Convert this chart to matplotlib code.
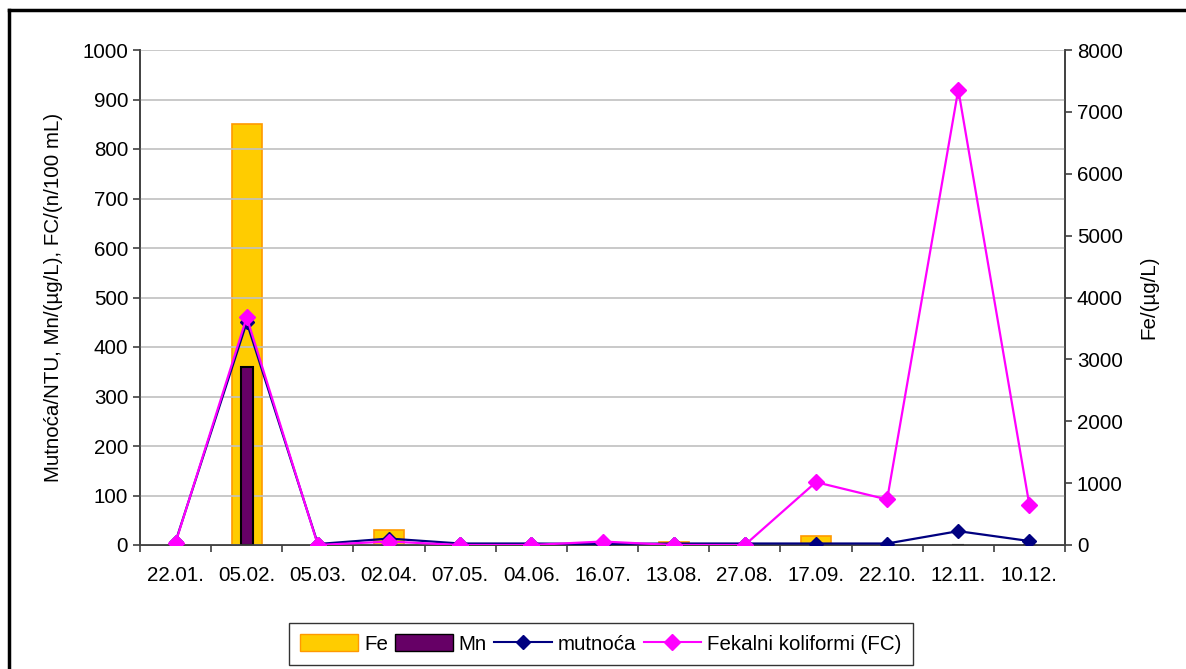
import matplotlib.pyplot as plt
from matplotlib.lines import Line2D
import numpy as np

plt.rcParams['font.family'] = ['Liberation Sans', 'DejaVu Sans']

dates = ["22.01.", "05.02.", "05.03.", "02.04.", "07.05.", "04.06.", "16.07.",
         "13.08.", "27.08.", "17.09.", "22.10.", "12.11.", "10.12."]
fe = [0, 6800, 0, 250, 0, 0, 0, 50, 0, 140, 0, 0, 0]          # right axis, ug/L
mn = [0, 360, 0, 0, 0, 0, 0, 0, 0, 0, 0, 0, 0]                # left axis
mutnoca = [7, 450, 2, 13, 3, 3, 2, 3, 3, 3, 3, 28, 8]
fc = [5, 460, 0, 7, 0, 0, 7, 0, 0, 127, 92, 920, 80]

FS = 14.8
x = np.arange(len(dates))

fig = plt.figure(figsize=(11.86, 6.69), dpi=100)
ax = fig.add_axes([140/1186, 1 - 545/669, (1065 - 140)/1186, 495/669])
ax2 = ax.twinx()

# Fe on secondary axis, drawn behind
ax2.bar(x, fe, width=0.42, color="#FFCC00", edgecolor="#FF9900", linewidth=1.2, zorder=1)
ax2.set_ylim(0, 8000)
ax2.set_yticks(range(0, 8001, 1000))

ax.set_zorder(ax2.get_zorder() + 1)
ax.patch.set_visible(False)
ax.bar(x, mn, width=0.17, color="#660066", edgecolor="black", linewidth=1.5, zorder=2)
ax.plot(x, mutnoca, color="#000080", marker="D", markersize=7, linewidth=1.6, zorder=3)
ax.plot(x, fc, color="#FF00FF", marker="D", markersize=8, linewidth=1.6, zorder=4)

ax.set_xlim(-0.5, len(dates) - 0.5)
ax.set_ylim(0, 1000)
ax.set_yticks(range(0, 1001, 100))
ax.grid(axis="y", color="#C0C0C0", linewidth=1.2)
ax.set_axisbelow(True)
ax.set_xticks(x)
ax.set_xticklabels(dates)
ax.set_xticks(np.arange(-0.5, len(dates)), minor=True)
ax.tick_params(axis="x", which="major", length=0, pad=15, labelsize=FS)
ax.tick_params(axis="x", which="minor", length=5, width=1.2, color="#404040")
ax.tick_params(axis="y", length=5, width=1.2, labelsize=FS, direction="out", color="#404040")
ax2.tick_params(axis="y", length=5, width=1.2, labelsize=FS, color="#404040")

for a in (ax, ax2):
    a.spines["top"].set_visible(False)
    for s in ("left", "right", "bottom"):
        a.spines[s].set_color("#404040")
        a.spines[s].set_linewidth(1.2)

ax.set_ylabel("Mutnoća/NTU, Mn/(µg/L), FC/(n/100 mL)", fontsize=FS, labelpad=14)
ax2.set_ylabel("Fe/(µg/L)", fontsize=FS, labelpad=12)

handles = [
    plt.Rectangle((0, 0), 1, 1, facecolor="#FFCC00", edgecolor="#FF9900"),
    plt.Rectangle((0, 0), 1, 1, facecolor="#660066", edgecolor="black"),
    Line2D([], [], color="#000080", marker="D", markersize=7),
    Line2D([], [], color="#FF00FF", marker="D", markersize=8),
]
leg = fig.legend(handles, ["Fe", "Mn", "mutnoća", "Fekalni koliformi (FC)"],
                 loc="center", bbox_to_anchor=(601/1186, 1 - 644/669), ncol=4,
                 fontsize=FS, frameon=True, fancybox=False, edgecolor="black",
                 handlelength=2.8, handleheight=0.9, columnspacing=0.35,
                 handletextpad=0.3, borderpad=0.55)
leg.get_frame().set_linewidth(1.0)

# chart-area border (left and top)
fig.add_artist(Line2D([9/1186, 9/1186], [0, 1 - 10/669], color="black", linewidth=2.5))
fig.add_artist(Line2D([9/1186, 1], [1 - 10/669, 1 - 10/669], color="black", linewidth=2.5))

fig.savefig("out.png", dpi=100)
